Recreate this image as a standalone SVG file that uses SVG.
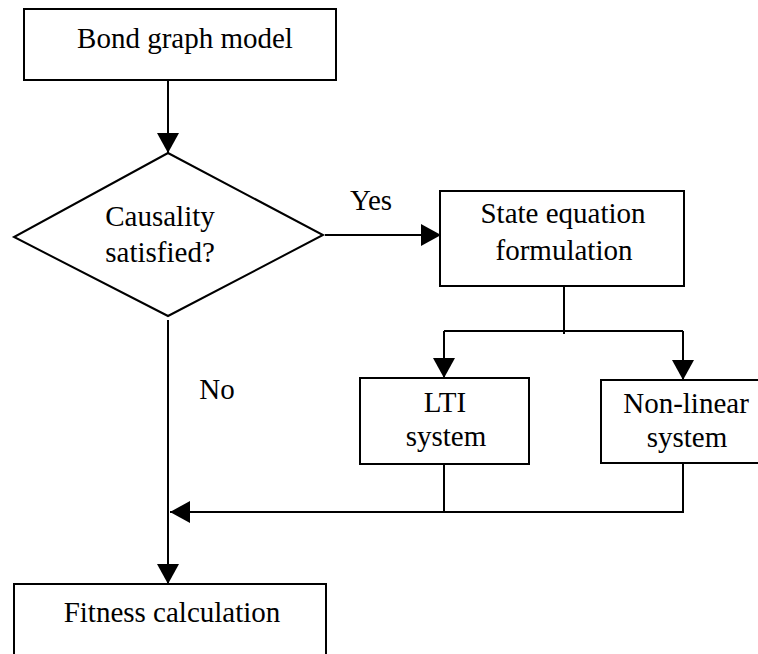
<svg xmlns="http://www.w3.org/2000/svg" width="758" height="654" viewBox="0 0 758 654">
<style>
.box{fill:#fff;stroke:#000;stroke-width:2}
.ln{fill:none;stroke:#000;stroke-width:2}
.t{font-size:29px;fill:#000;text-anchor:middle}
</style>
<defs>
<marker id="ah" viewBox="0 0 20 22" refX="20" refY="11" markerWidth="20" markerHeight="22" markerUnits="userSpaceOnUse" orient="auto">
<path d="M0,0 L20,11 L0,22 z" fill="#000"/>
</marker>
</defs>
<rect width="758" height="654" fill="#fff"/>
<g font-family="Liberation Serif, Nimbus Roman, Times New Roman, DejaVu Serif, serif">
<g id="connectors">
<line class="ln" x1="168" y1="80" x2="168" y2="153" marker-end="url(#ah)"/>
<line class="ln" x1="325" y1="235" x2="441" y2="235" marker-end="url(#ah)"/>
<polyline class="ln" points="564,286 564,334"/>
<line class="ln" x1="444" y1="331" x2="683" y2="331"/>
<line class="ln" x1="444" y1="331" x2="444" y2="378" marker-end="url(#ah)"/>
<line class="ln" x1="683" y1="331" x2="683" y2="380" marker-end="url(#ah)"/>
<line class="ln" x1="444" y1="464" x2="444" y2="512"/>
<polyline class="ln" points="683,463 683,512 170,512" marker-end="url(#ah)"/>
<line class="ln" x1="168" y1="320" x2="168" y2="584" marker-end="url(#ah)"/>
<text class="t" x="371" y="210">Yes</text>
<text class="t" x="217" y="399">No</text>
</g>
<g id="bond">
<rect class="box" x="24" y="9" width="312" height="71"/>
<text class="t" x="185" y="48">Bond graph model</text>
</g>
<g id="causality">
<polygon class="box" points="168,153 323,235 168,316 14,237"/>
<text class="t" x="160" y="226">Causality</text>
<text class="t" x="160" y="262">satisfied?</text>
</g>
<g id="state">
<rect class="box" x="440" y="191" width="244" height="95"/>
<text class="t" x="563" y="223">State equation</text>
<text class="t" x="564" y="260">formulation</text>
</g>
<g id="lti">
<rect class="box" x="360" y="378" width="169" height="86"/>
<text class="t" x="445" y="412">LTI</text>
<text class="t" x="446" y="446">system</text>
</g>
<g id="nonlinear">
<rect class="box" x="601" y="380" width="170" height="83"/>
<text class="t" x="686" y="413">Non-linear</text>
<text class="t" x="687" y="447">system</text>
</g>
<g id="fitness">
<rect class="box" x="14" y="584" width="312" height="90"/>
<text class="t" x="172" y="622">Fitness calculation</text>
</g>
</g>
</svg>
